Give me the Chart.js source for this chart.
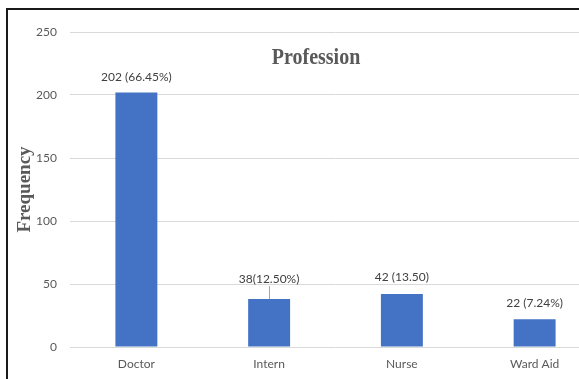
<!DOCTYPE html>
<html lang="en">
<head>
    <meta charset="UTF-8">
    <title>Profession</title>
    <style>
        html, body { margin: 0; padding: 0; background: #fff; overflow: hidden; width: 579px; height: 379px; }
        .frame { position: absolute; left: 6px; top: 8px; width: 700px; height: 500px; border-left: 2px solid #1a1a1a; border-top: 2px solid #1a1a1a; }
        #chart { position: absolute; left: 0; top: 0; }
    </style>
    <script src="https://cdn.jsdelivr.net/npm/chart.js"></script>
</head>
<body>
<div class="frame"></div>
<canvas id="chart" width="610" height="379" style="width:610px;height:379px"></canvas>

<script>
    const categories = ['Doctor', 'Intern', 'Nurse', 'Ward Aid'];
    const frequency = [202, 38, 42, 22];
    const valueLabels = ['202 (66.45%)', '38(12.50%)', '42 (13.50)', '22 (7.24%)'];
    const yTicks = [0, 50, 100, 150, 200, 250];

    // label placement above each bar (px) and whether a leader line is shown
    const labelGap = [15, 20, 17, 16];
    const leaderLine = [false, true, false, false];

    const grey = '#595959';

    // bar value labels + chart title drawn over the plot, Excel style
    const overlay = {
        id: 'overlay',
        afterDatasetsDraw(chart) {
            const ctx = chart.ctx;
            const meta = chart.getDatasetMeta(0);
            ctx.save();
            ctx.font = '12px Lato, sans-serif';
            ctx.fillStyle = '#404040';
            ctx.textAlign = 'center';
            ctx.textBaseline = 'middle';
            meta.data.forEach((bar, i) => {
                const y = bar.y - labelGap[i];
                ctx.fillText(valueLabels[i], bar.x, y);
                if (leaderLine[i]) {
                    ctx.strokeStyle = '#a6a6a6';
                    ctx.lineWidth = 1;
                    ctx.beginPath();
                    ctx.moveTo(Math.round(bar.x) + 0.5, y + 7);
                    ctx.lineTo(Math.round(bar.x) + 0.5, bar.y);
                    ctx.stroke();
                }
            });
            // title is a bit condensed in the original
            ctx.font = 'bold 23px "Liberation Serif", serif';
            ctx.fillStyle = grey;
            ctx.textBaseline = 'alphabetic';
            ctx.translate(316, 64);
            ctx.scale(0.87, 1);
            ctx.fillText('Profession', 0, 0);
            ctx.restore();
        }
    };

    new Chart(document.getElementById('chart'), {
        type: 'bar',
        data: {
            labels: categories,
            datasets: [{
                label: 'Frequency',
                data: frequency,
                backgroundColor: '#4472C4',
                borderWidth: 0,
                categoryPercentage: 1,
                barPercentage: 0.316
            }]
        },
        options: {
            responsive: false,
            animation: false,
            devicePixelRatio: 1,
            layout: { padding: { top: 32, right: 9, left: 0, bottom: 0 } },
            plugins: {
                legend: { display: false },
                tooltip: { enabled: false }
            },
            scales: {
                x: {
                    grid: { display: false, drawTicks: false },
                    border: { display: false },
                    ticks: { color: grey, padding: 10, font: { family: 'Lato', size: 12 } },
                    afterFit(s) { s.height = 32; }
                },
                y: {
                    min: 0,
                    max: 250,
                    afterBuildTicks(s) { s.ticks = yTicks.map(v => ({ value: v })); },
                    grid: { color: '#d9d9d9', lineWidth: 1, drawTicks: false },
                    border: { display: false },
                    ticks: { color: grey, padding: 13, font: { family: 'Lato', size: 12 } },
                    title: {
                        display: true,
                        text: 'Frequency',
                        color: grey,
                        font: { family: '"Liberation Serif", serif', size: 19, weight: 'bold' },
                        padding: { top: 14, bottom: 0 }
                    },
                    afterFit(s) { s.width = 70; }
                }
            }
        },
        plugins: [overlay]
    });
</script>
</body>
</html>
